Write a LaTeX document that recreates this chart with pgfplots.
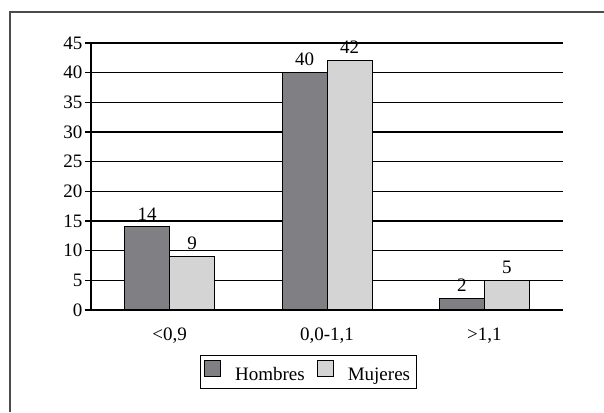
\documentclass[border=0pt]{standalone}
\usepackage{pgfplots}
\pgfplotsset{compat=1.18}
\usepackage{fontspec}
\setmainfont{Liberation Serif}
\definecolor{hombres}{HTML}{808084}
\definecolor{mujeres}{HTML}{D4D4D4}
\begin{document}
\begin{tikzpicture}[x=1pt,y=1pt]
    \path[use as bounding box] (0,0) rectangle (604,412);
    \draw[line width=1.6pt, black!70] (10,0) -- (10,400) -- (604,400);
    \begin{axis}[
            at={(91pt,102pt)}, anchor=south west,
            scale only axis, width=472pt, height=267pt,
            font=\fontsize{19}{22}\selectfont,
            xmin=-0.5, xmax=2.5, ymin=0, ymax=45,
            ytick={0,5,...,45},
            xtick={0,1,2},
            xticklabels={{<0,9},{0,0-1,1},{>1,1}},
            axis x line*=bottom, axis y line*=left,
            axis line style={black, line width=1.2pt, -},
            x tick style={draw=none},
            y tick style={black, line width=1.2pt},
            tick align=outside, major tick length=6pt,
            xticklabel style={yshift=-8pt},
            yticklabel style={xshift=1pt},
            ymajorgrids, grid style={black, line width=1.2pt},
            /pgf/number format/assume math mode=true,
            ybar, bar width=0.286,
            nodes near coords,
            nodes near coords style={yshift=3pt},
            legend columns=2,
            legend style={at={(rel axis cs:0.46,-0.232)}, anchor=center,
                draw=black, line width=1pt, inner xsep=4pt, inner ysep=4pt,
                /tikz/every odd column/.append style={column sep=12pt},
                /tikz/every even column/.append style={column sep=10pt}},
            legend image code/.code={\draw[#1] (0pt,-1pt) rectangle (16pt,15pt);},
        ]
        \addplot[fill=hombres, draw=black, line width=1pt, bar shift=-0.143] coordinates {
            (0, 14)
            (1, 40)
            (2, 2)
        };
        \addplot[fill=mujeres, draw=black, line width=1pt, bar shift=0.143] coordinates {
            (0, 9)
            (1, 42)
            (2, 5)
        };
        \legend{Hombres, Mujeres}
    \end{axis}
\end{tikzpicture}
\end{document}
